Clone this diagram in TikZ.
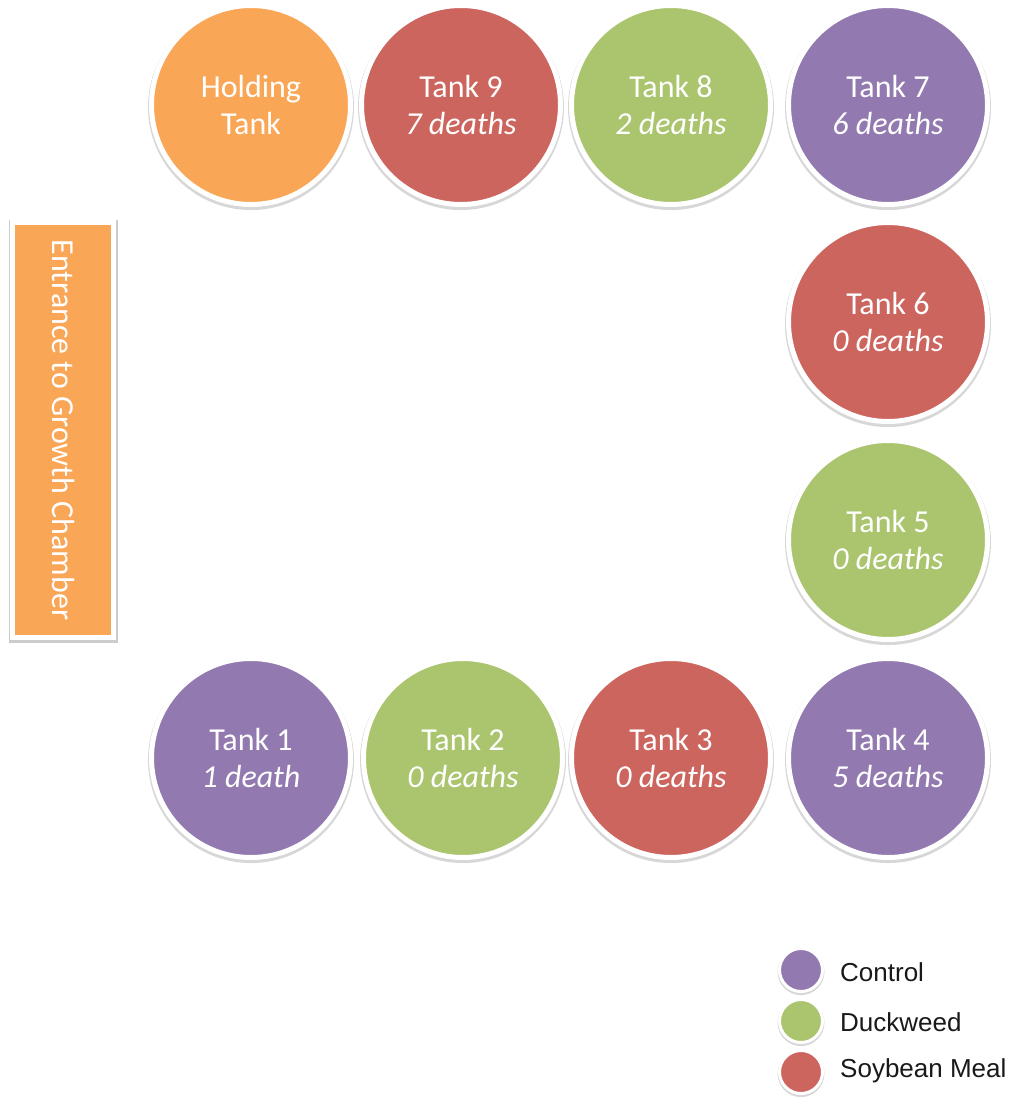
\documentclass[tikz,border=0pt]{standalone}
\usepackage{fontspec}
\usepackage{graphicx}
\setmainfont{Carlito}
\newfontfamily\legendfont{Liberation Sans}
\usetikzlibrary{shadows}
\definecolor{cOrange}{RGB}{250,166,87}
\definecolor{cRed}{RGB}{205,101,95}
\definecolor{cGreen}{RGB}{171,197,110}
\definecolor{cPurple}{RGB}{146,122,177}
\begin{document}
\begin{tikzpicture}[x=1pt,y=-1pt]
\tikzset{
  tank/.style={circle, draw=white, line width=5pt, minimum size=199pt, inner sep=0pt,
    text=white, align=center, font=\fontsize{32}{37}\selectfont,
    drop shadow={shadow xshift=0pt, shadow yshift=-2pt, shadow scale=1.035, opacity=0.22, fill=black!70}},
  legdot/.style={circle, draw=white, line width=3pt, minimum size=43pt, inner sep=0pt,
    drop shadow={shadow xshift=0pt, shadow yshift=-1.5pt, shadow scale=1.09, opacity=0.22, fill=black!70}},
  legtext/.style={anchor=west, inner sep=0pt, text=black!90, font=\legendfont\fontsize{26}{30}\selectfont},
  doorbox/.style={rectangle, draw=white, line width=5pt, fill=cOrange, minimum width=101pt,
    minimum height=415pt, inner sep=0pt, text=white, font=\fontsize{32}{37}\selectfont,
    preaction={draw=black!20, line width=8pt, transform canvas={yshift=-1.5pt}}}
}
\fill[white] (0,0) rectangle (1013,1105);
\useasboundingbox (0,0) rectangle (1013,1105);

\node[doorbox] (entrance) at (63,430) {\rotatebox{-90}{Entrance to Growth Chamber}};

\node[tank, fill=cOrange] (holding) at (251,105) {Holding\\Tank};
\node[tank, fill=cRed]    (t9) at (461,105) {Tank 9\\\textit{7 deaths}};
\node[tank, fill=cGreen]  (t8) at (671,105) {Tank 8\\\textit{2 deaths}};
\node[tank, fill=cPurple] (t7) at (888,105) {Tank 7\\\textit{6 deaths}};
\node[tank, fill=cRed]    (t6) at (888,322) {Tank 6\\\textit{0 deaths}};
\node[tank, fill=cGreen]  (t5) at (888,540) {Tank 5\\\textit{0 deaths}};
\node[tank, fill=cPurple] (t4) at (888,758) {Tank 4\\\textit{5 deaths}};
\node[tank, fill=cRed]    (t3) at (671,758) {Tank 3\\\textit{0 deaths}};
\node[tank, fill=cGreen]  (t2) at (463,758) {Tank 2\\\textit{0 deaths}};
\node[tank, fill=cPurple] (t1) at (251,758) {Tank 1\\\textit{1 death}};

\node[legdot, fill=cPurple] (lc) at (801,970) {};
\node[legdot, fill=cGreen]  (ld) at (801,1021) {};
\node[legdot, fill=cRed]    (ls) at (801,1072) {};
\node[legtext] (lct) at (840,972) {Control};
\node[legtext] (ldt) at (840,1022) {Duckweed};
\node[legtext] (lst) at (840,1071) {Soybean Meal};
\end{tikzpicture}
\end{document}
